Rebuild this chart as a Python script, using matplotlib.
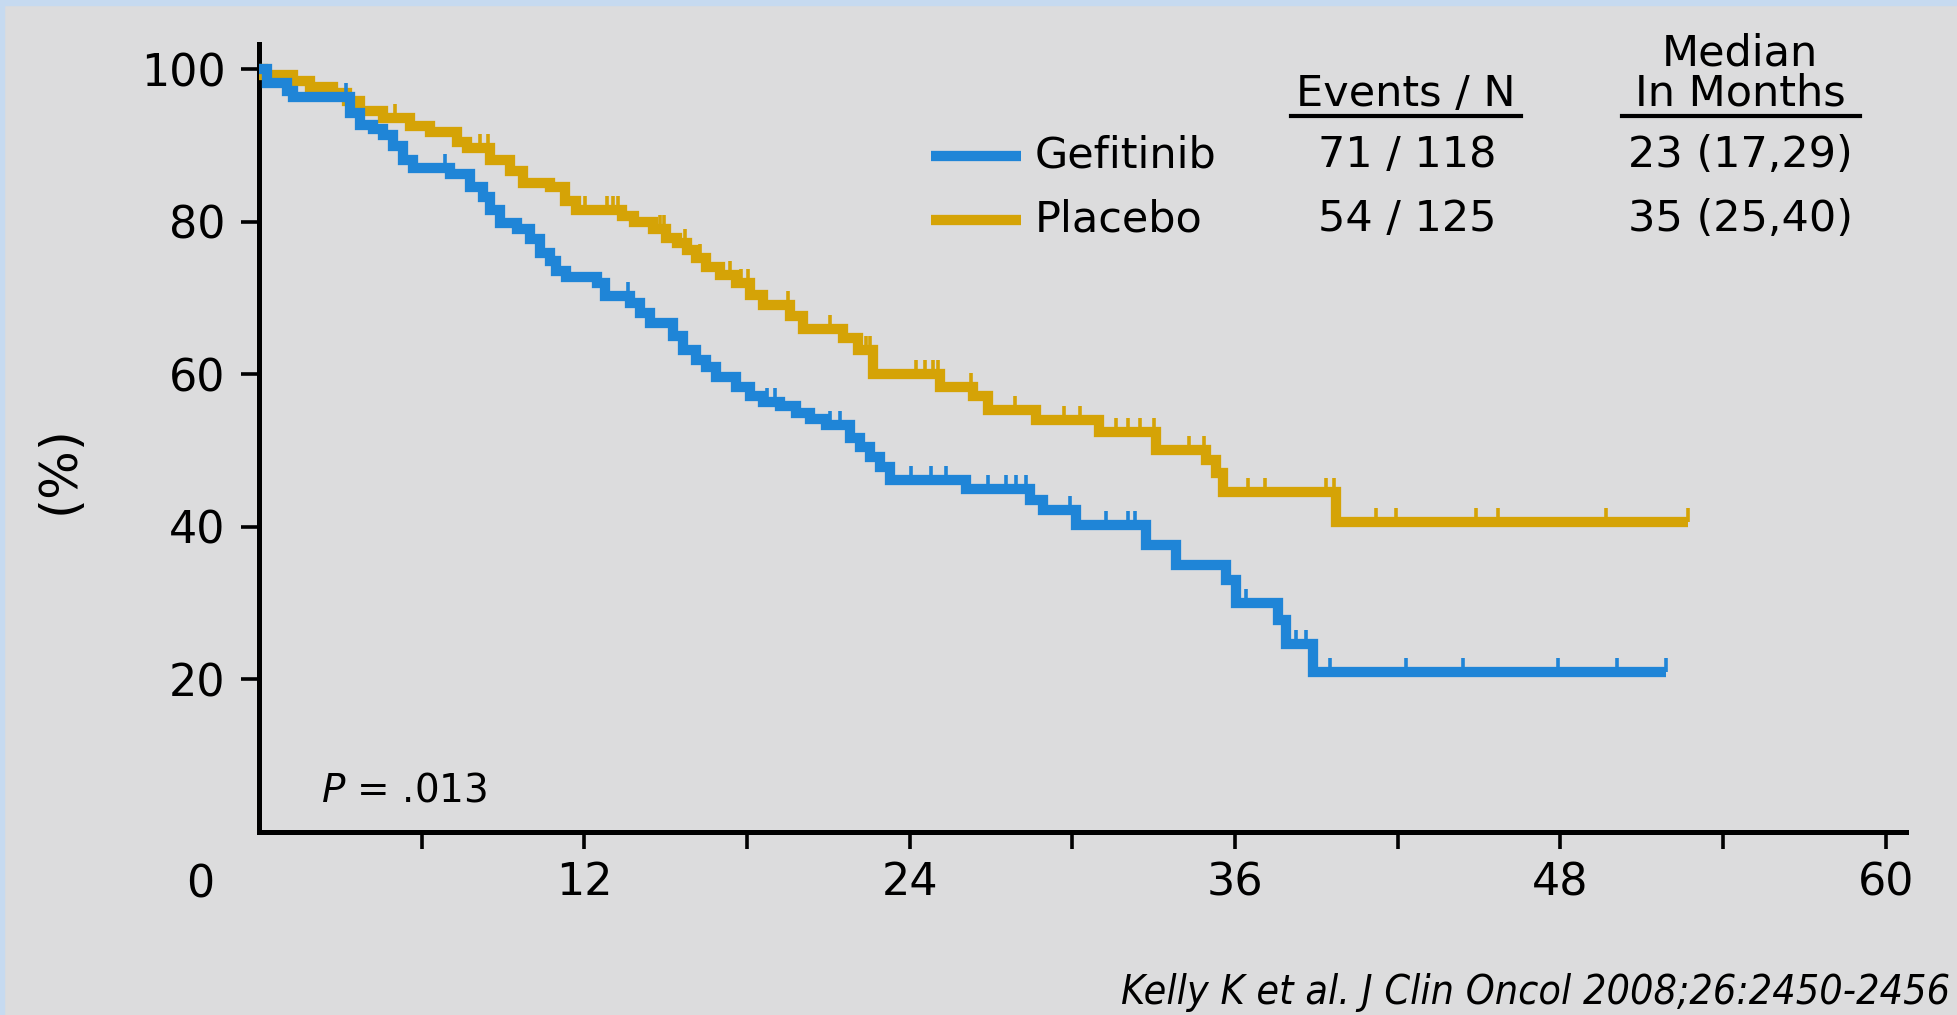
import numpy as np
import matplotlib
matplotlib.use("Agg")
import matplotlib.pyplot as plt
from matplotlib.markers import TICKUP

# Kaplan-Meier step data (months, % surviving)
gef_t = [0, 0.3, 1.02, 1.27, 3.35, 3.72, 4.21, 4.58, 4.95, 5.32,
         5.69, 7.04, 7.78, 8.27, 8.52, 8.89, 9.50, 9.99, 10.36, 10.73,
         10.97, 11.34, 12.45, 12.75, 13.7, 14.05, 14.41, 15.27, 15.64, 16.13,
         16.5, 16.87, 17.61, 18.1, 18.59, 19.21, 19.82, 20.31, 20.93, 21.79,
         22.16, 22.53, 22.89, 23.26, 26.09, 28.43, 28.91, 30.14, 32.72, 33.83,
         35.68, 36.04, 37.6, 37.88, 38.86]
gef_s = [100, 98.2, 97.1, 96.4, 94.3, 92.7, 92.1, 91.4, 89.9, 88.1,
         87.0, 86.2, 84.6, 83.3, 81.6, 79.9, 79.0, 77.7, 75.9, 74.8,
         73.6, 72.8, 72.0, 70.3, 69.4, 68.1, 66.7, 65.0, 63.2, 61.9,
         61.0, 59.7, 58.4, 57.1, 56.4, 55.8, 54.9, 54.2, 53.4, 51.6,
         50.5, 49.2, 47.9, 46.2, 44.9, 43.5, 42.2, 40.3, 37.6, 35.0,
         33.0, 30.0, 27.8, 24.7, 21.0]
gef_end = 51.9
gef_censor = [3.2, 6.86, 13.6, 17.67, 18.72, 19.02, 21.05, 21.42, 24.06, 24.8,
              25.35, 26.89, 27.56, 27.93, 28.3, 29.9, 31.25, 32.05, 32.3, 36.41,
              38.26, 38.62, 39.5, 42.3, 44.4, 47.9, 50.1, 51.9]

pla_t = [0, 0.15, 1.27, 1.88, 2.74, 3.23, 3.72, 4.58, 5.57, 6.30,
         7.29, 7.66, 8.52, 9.25, 9.74, 10.73, 11.3, 11.7, 13.4, 13.85,
         14.54, 15.03, 15.40, 15.77, 16.13, 16.50, 17.0, 17.61, 18.10, 18.59,
         19.58, 20.07, 21.54, 22.1, 22.65, 25.11, 26.33, 26.9, 28.67, 31.0,
         33.09, 34.94, 35.31, 35.55, 39.73]
pla_s = [100, 99.3, 98.4, 97.7, 96.9, 95.8, 94.5, 93.6, 92.5, 91.7,
         90.5, 89.7, 88.1, 86.6, 85.1, 84.5, 82.7, 81.5, 80.7, 80.0,
         79.0, 77.9, 77.2, 76.3, 75.3, 74.1, 73.0, 72.0, 70.4, 69.1,
         67.6, 66.0, 64.7, 63.2, 60.0, 58.4, 57.1, 55.3, 54.0, 52.5,
         50.1, 48.8, 47.1, 44.6, 40.7]
pla_end = 52.7
pla_censor = [5.0, 8.15, 8.45, 12.02, 12.82, 13.06, 13.25, 14.78, 14.95, 15.7,
              16.26, 17.36, 17.79, 18.04, 19.51, 21.05, 22.40, 22.53, 24.25, 24.55,
              24.86, 25.05, 26.25, 27.87, 29.71, 30.27, 31.62, 32.05, 32.48, 33.03,
              34.32, 34.87, 36.47, 37.09, 39.36, 39.67, 41.2, 41.95, 44.9, 45.7,
              49.7, 52.7]

arm_names = ["Gefitinib", "Placebo"]
events_n = ["71 / 118", "54 / 125"]
medians = ["23 (17,29)", "35 (25,40)"]

x_ticks = [6, 12, 18, 24, 30, 36, 42, 48, 54, 60]
x_labels = ["", "12", "", "24", "", "36", "", "48", "", "60"]
y_ticks = [20, 40, 60, 80, 100]

BLUE = "#1f85d7"
GOLD = "#d5a306"
BG = "#dcdcdd"

W, H = 1957, 1015
fig = plt.figure(figsize=(W / 100, H / 100), dpi=100, facecolor=BG)

def fx(px):
    return px / W

def fy(py):
    return 1 - py / H

# thin frame strips along top and left edge
fig.patches.append(plt.Rectangle((0, fy(5)), 1, 5 / H, transform=fig.transFigure,
                                 color="#c6daf0", zorder=0))
fig.patches.append(plt.Rectangle((0, 0), 4 / W, 1, transform=fig.transFigure,
                                 color="#c6daf0", zorder=0))

left, right, bottom, top = 259, 1906, 832, 44
ax = fig.add_axes([fx(left), fy(bottom), (right - left) / W, (bottom - top) / H])
ax.set_facecolor(BG)
ax.set_xlim(0, 60.75)
ax.set_ylim(0, 103.3)

for sp in ["top", "right"]:
    ax.spines[sp].set_visible(False)
for sp in ["left", "bottom"]:
    ax.spines[sp].set_linewidth(3.6)
    ax.spines[sp].set_color("black")

FONT = "DejaVu Sans"
TICK_FS = 32

ax.set_xticks(x_ticks)
ax.set_xticklabels(x_labels, fontsize=TICK_FS, family=FONT)
ax.set_yticks(y_ticks)
ax.set_yticklabels([str(v) for v in y_ticks], fontsize=TICK_FS, family=FONT)
ax.tick_params(axis="x", direction="out", length=12, width=2.6, pad=9)
ax.tick_params(axis="y", direction="out", length=13, width=2.6, pad=11)

fig.text(fx(200), fy(885), "0", fontsize=TICK_FS, family=FONT, ha="center", va="center")


def survival_at(t, s, times):
    idx = np.searchsorted(np.asarray(t), np.asarray(times), side="right") - 1
    return np.asarray(s)[idx]


def draw_arm(t, s, end, censor, color):
    xs = np.append(t, end)
    ys = np.append(s, s[-1])
    ax.step(xs, ys, where="post", color=color, lw=7.4,
            solid_joinstyle="miter", solid_capstyle="butt", zorder=3)
    ax.plot(censor, survival_at(t, s, censor), linestyle="none", marker=TICKUP,
            ms=10, mew=2.6, color=color, zorder=3)


draw_arm(pla_t, pla_s, pla_end, pla_censor, GOLD)
draw_arm(gef_t, gef_s, gef_end, gef_censor, BLUE)

# y-axis label
fig.text(fx(60), fy(470), "(%)", rotation=90, fontsize=37, family=FONT,
         ha="center", va="center")

# p-value
fig.text(fx(321), fy(790), "$P$ = .013", fontsize=28, family=FONT,
         ha="left", va="center", math_fontfamily="dejavusans")

# legend table
TAB_FS = 31
for i, (name, color) in enumerate(zip(arm_names, [BLUE, GOLD])):
    yc = [156, 220][i]
    fig.add_artist(plt.Line2D([fx(931), fx(1021)], [fy(yc), fy(yc)],
                              color=color, lw=7.4, solid_capstyle="butt",
                              transform=fig.transFigure))
    fig.text(fx(1035), fy(yc - 1), name, fontsize=TAB_FS, family=FONT,
             ha="left", va="center")
    fig.text(fx(1407), fy(yc - 1), events_n[i], fontsize=TAB_FS, family=FONT,
             ha="center", va="center")
    fig.text(fx(1740), fy(yc - 1), medians[i], fontsize=TAB_FS, family=FONT,
             ha="center", va="center")

fig.text(fx(1406), fy(94), "Events / N", fontsize=TAB_FS, family=FONT,
         ha="center", va="center")
fig.text(fx(1740), fy(54), "Median", fontsize=TAB_FS, family=FONT,
         ha="center", va="center")
fig.text(fx(1740), fy(94), "In Months", fontsize=TAB_FS, family=FONT,
         ha="center", va="center")
for x0, x1 in [(1291, 1521), (1622, 1860)]:
    fig.add_artist(plt.Line2D([fx(x0), fx(x1)], [fy(116), fy(116)],
                              color="black", lw=3, transform=fig.transFigure))

# citation
fig.text(fx(1950), fy(993), "Kelly K et al. J Clin Oncol 2008;26:2450-2456",
         fontsize=29.5, family="DejaVu Sans", stretch="condensed", style="italic",
         ha="right", va="center")

fig.savefig("out.png", dpi=100, facecolor=BG)
